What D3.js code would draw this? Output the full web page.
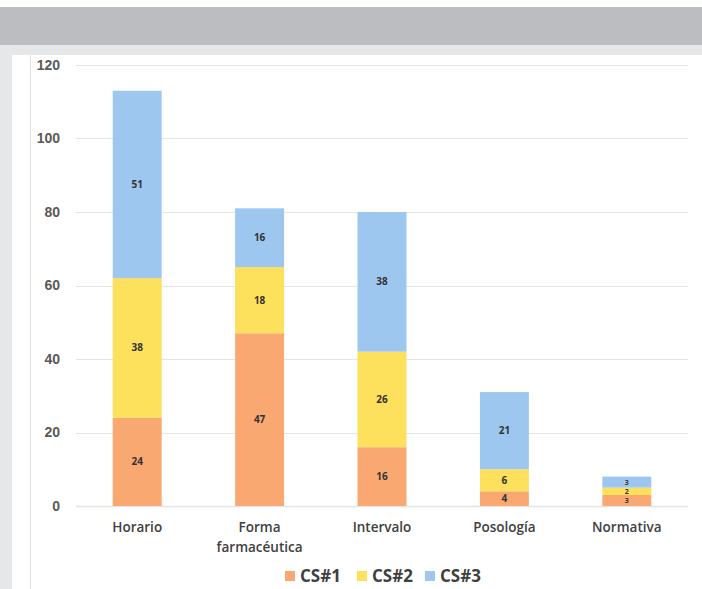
<!DOCTYPE html>
<meta charset="utf-8" />
<script src="https://d3js.org/d3.v7.min.js"></script>
<style>
  body { margin: 0; background: #fff; }
  svg { display: block; font-family: "Open Sans", Arial, sans-serif; }
</style>
<div id="my_dataviz"></div>
<script>
  // data
  var categories = ["Horario", "Forma farmacéutica", "Intervalo", "Posología", "Normativa"];
  var series = ["CS#1", "CS#2", "CS#3"];
  var cs1 = [24, 47, 16, 4, 3];
  var cs2 = [38, 18, 26, 6, 2];
  var cs3 = [51, 16, 38, 21, 3];
  var yTicks = [0, 20, 40, 60, 80, 100, 120];
  var colors = ["#f9a872", "#fde05b", "#9ec7f0"];

  var W = 702, H = 589;
  var margin = { top: 65, right: 14, bottom: 83, left: 76 },
    width = W - margin.left - margin.right,
    height = H - margin.top - margin.bottom;

  var root = d3.select("#my_dataviz").append("svg")
    .attr("width", W).attr("height", H);

  // slide background around the chart
  root.append("rect").attr("x", 0).attr("y", 7).attr("width", W).attr("height", 38).attr("fill", "#bcbdc0");
  root.append("rect").attr("x", 0).attr("y", 45).attr("width", W).attr("height", 10).attr("fill", "#e6e7e8");
  root.append("rect").attr("x", 0).attr("y", 55).attr("width", 12).attr("height", H - 55).attr("fill", "#e6e7e8");
  root.append("line").attr("x1", 30.5).attr("x2", 30.5).attr("y1", 55).attr("y2", H)
    .attr("stroke", "#e3e3e3");

  var svg = root.append("g").attr("transform", "translate(" + margin.left + "," + margin.top + ")");

  var data = categories.map(function (c, i) {
    return { cat: c, "CS#1": cs1[i], "CS#2": cs2[i], "CS#3": cs3[i] };
  });

  var x = d3.scaleBand().domain(categories).range([0, width]).paddingInner(0.6).paddingOuter(0.3);
  var y = d3.scaleLinear().domain([0, 120]).range([height, 0]);
  var color = d3.scaleOrdinal().domain(series).range(colors);

  // gridlines
  svg.append("g").selectAll("line").data(yTicks).enter().append("line")
    .attr("x1", 0).attr("x2", width)
    .attr("y1", function (d) { return Math.round(y(d)) + 0.5; })
    .attr("y2", function (d) { return Math.round(y(d)) + 0.5; })
    .attr("stroke", "#e4e4e4").attr("stroke-width", function (d) { return d === 0 ? 1.5 : 1; });

  // y axis labels
  var yAxis = svg.append("g").attr("transform", "translate(-16,0)")
    .call(d3.axisLeft(y).tickValues(yTicks).tickSize(0).tickPadding(0));
  yAxis.select(".domain").remove();
  yAxis.selectAll("text").attr("text-anchor", "end").attr("x", 0)
    .style("font-size", "14px").style("font-weight", "bold").attr("fill", "#595959");

  var stacked = d3.stack().keys(series)(data);

  var groups = svg.append("g").selectAll("g").data(stacked).enter().append("g")
    .attr("fill", function (d) { return color(d.key); });

  groups.selectAll("rect").data(function (d) { return d; }).enter().append("rect")
    .attr("x", function (d) { return x(d.data.cat); })
    .attr("y", function (d) { return y(d[1]); })
    .attr("height", function (d) { return y(d[0]) - y(d[1]); })
    .attr("width", x.bandwidth());

  groups.selectAll("text").data(function (d) { return d; }).enter().append("text")
    .attr("x", function (d) { return x(d.data.cat) + x.bandwidth() / 2; })
    .attr("y", function (d) { return (y(d[0]) + y(d[1])) / 2; })
    .attr("dy", "0.35em")
    .attr("text-anchor", "middle")
    .attr("fill", "#333")
    .style("font-size", function (d) { return d[1] - d[0] < 4 ? "7px" : "10px"; })
    .style("font-weight", "bold")
    .text(function (d) { return d[1] - d[0]; });

  // x axis labels
  var xl = svg.append("g").selectAll("text").data(categories).enter().append("text")
    .attr("x", function (d) { return x(d) + x.bandwidth() / 2; })
    .attr("y", height + 26)
    .attr("text-anchor", "middle")
    .attr("fill", "#404040")
    .style("font-size", "13.5px").style("font-weight", "600");
  xl.each(function (d) {
    var words = d === "Forma farmacéutica" ? ["Forma", "farmacéutica"] : [d];
    var t = d3.select(this);
    words.forEach(function (w, i) {
      t.append("tspan").attr("x", x(d) + x.bandwidth() / 2).attr("dy", i ? 20 : 0).text(w);
    });
  });

  // legend
  var legend = root.append("g").attr("transform", "translate(285,576)");
  var lx = [0, 72, 140];
  series.forEach(function (s, i) {
    legend.append("rect").attr("x", lx[i]).attr("y", -5).attr("width", 10).attr("height", 10).attr("fill", color(s));
    legend.append("text").attr("x", lx[i] + 15).attr("y", 0).attr("dy", "0.36em")
      .style("font-size", "17px").style("font-weight", "bold").attr("fill", "#404040").text(s);
  });
</script>
